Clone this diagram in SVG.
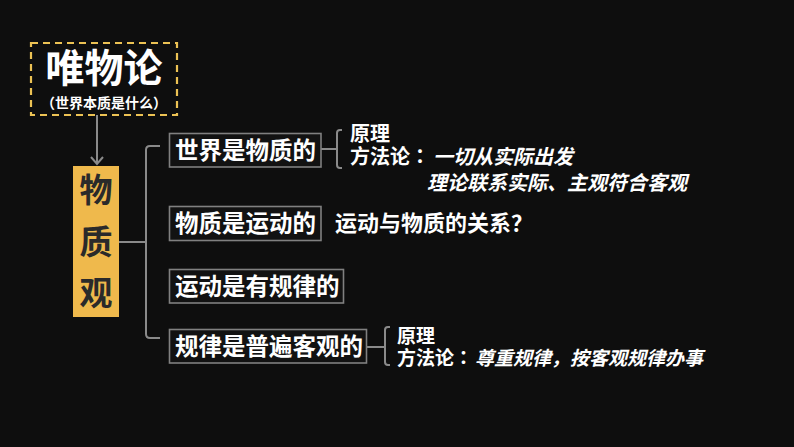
<svg xmlns="http://www.w3.org/2000/svg" width="794" height="447" viewBox="0 0 794 447">
<style>
.t{font-family:"Noto Sans CJK SC","Noto Sans",sans-serif;font-weight:700;fill:#ffffff}
.jp{font-family:"Noto Sans CJK JP","Noto Sans CJK SC",sans-serif}
.box{fill:#121212;stroke:#808080;stroke-width:1.6}
.ln{fill:none;stroke:#8a8a8a;stroke-width:2}
.it{font-style:italic}
</style>
<rect x="0" y="0" width="794" height="447" fill="#0e0e0e"/>
<g id="materialism">
<rect x="31" y="43" width="146" height="72" fill="none" stroke="#ecc254" stroke-width="2.2" stroke-dasharray="7,5"/>
<text class="t" x="104" y="82" font-size="39" text-anchor="middle">唯物论</text>
<text class="t" x="104" y="108" font-size="14" text-anchor="middle">（世界本质是什么）</text>
</g>
<g id="connectors">
<path class="ln" d="M97,115 V164 M91,157 L97,164 L103,157"/>
<path class="ln" d="M119,242 H146 M160,146 H150 Q146,146 146,150 V334 Q146,338 150,338 H160"/>
<path class="ln" d="M321,149 H337 M342,130 H340 Q337,130 337,133 V165 Q337,168 340,168 H342"/>
<path class="ln" d="M367,347 H385 M390,327 H388 Q385,327 385,330 V362 Q385,365 388,365 H390"/>
</g>
<g id="matter-view">
<rect x="73" y="166" width="46" height="151" fill="#efb94c"/>
<text class="t" x="96" y="202" font-size="33" text-anchor="middle" style="fill:#2a2a2a">物</text>
<text class="t" x="96" y="254" font-size="33" text-anchor="middle" style="fill:#2a2a2a">质</text>
<text class="t" x="96" y="305" font-size="33" text-anchor="middle" style="fill:#2a2a2a">观</text>
</g>
<g id="node1">
<rect class="box" x="169.5" y="133.5" width="151.5" height="33.5"/>
<text class="t" x="175" y="159" font-size="23.5">世界是物质的</text>
</g>
<g id="node1-detail">
<text class="t" x="350" y="141" font-size="20">原理</text>
<text class="t" x="350" y="164" font-size="20">方法论<tspan class="jp">：</tspan><tspan class="it" x="433">一切从实际出发</tspan></text>
<text class="t it" x="427" y="190" font-size="20">理论联系实际、主观符合客观</text>
</g>
<g id="node2">
<rect class="box" x="169.5" y="206.5" width="151.5" height="34"/>
<text class="t" x="175" y="232" font-size="23.5">物质是运动的</text>
</g>
<g id="node2-detail">
<text class="t" x="335" y="231" font-size="22">运动与物质的关系？</text>
</g>
<g id="node3">
<rect class="box" x="169.5" y="269.5" width="174" height="33.5"/>
<text class="t" x="175" y="295" font-size="23.5">运动是有规律的</text>
</g>
<g id="node4">
<rect class="box" x="169.5" y="329.5" width="197" height="33.5"/>
<text class="t" x="175" y="355" font-size="23.5">规律是普遍客观的</text>
</g>
<g id="node4-detail">
<text class="t" x="397" y="343" font-size="19">原理</text>
<text class="t" x="397" y="365" font-size="19">方法论<tspan class="jp">：</tspan><tspan class="it" x="475">尊重规律<tspan class="jp">，</tspan>按客观规律办事</tspan></text>
</g>
</svg>
